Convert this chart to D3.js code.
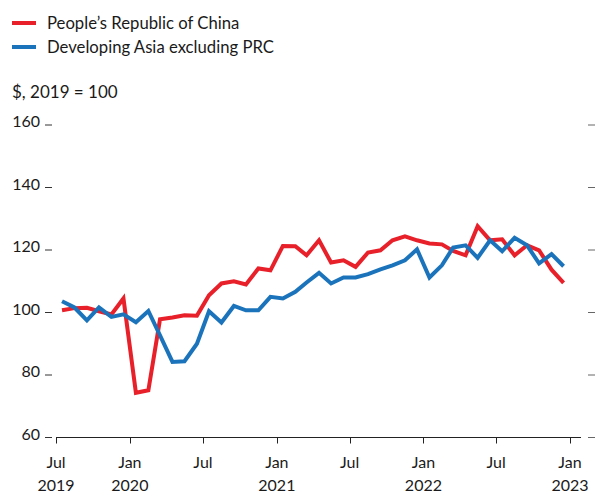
<!DOCTYPE html>
<html>
<head>
<meta charset="utf-8">
<script src="https://cdn.jsdelivr.net/npm/d3@7"></script>
<style>
  body { margin: 0; background: #fff; }
  text { font-family: Lato, "Open Sans", sans-serif; fill: #1a1a1a; }
</style>
</head>
<body>
<svg id="svg" width="598" height="496"></svg>
<script>
// monthly index, $, 2019 = 100 (Jul 2019 .. Dec 2022)
const months = d3.timeMonth.range(new Date(2019, 6, 1), new Date(2023, 0, 1));
const china = [100.7, 101.4, 101.5, 100.4, 99.4, 104.5, 74.3, 75.1, 97.8, 98.4,
  99.1, 99.0, 105.5, 109.3, 110.0, 109.0, 114.1, 113.5, 121.3, 121.2,
  118.3, 123.1, 116.0, 116.7, 114.6, 119.2, 119.9, 123.1, 124.4, 123.1,
  122.1, 121.8, 119.7, 118.3, 127.6, 123.1, 123.4, 118.3, 121.5, 119.9,
  113.7, 109.5];
const asia = [103.6, 101.6, 97.5, 101.6, 98.6, 99.4, 96.9, 100.5, 92.7, 84.2,
  84.4, 90.0, 100.4, 96.8, 102.1, 100.7, 100.7, 105.0, 104.5, 106.6,
  109.6, 112.7, 109.3, 111.2, 111.2, 112.3, 113.8, 115.1, 116.7, 120.2,
  111.2, 115.1, 120.8, 121.5, 117.5, 123.1, 119.6, 123.9, 121.5, 115.7,
  118.7, 114.8];
const yTicks = [60, 80, 100, 120, 140, 160];
const xTicks = [
  [new Date(2019, 6, 1), "Jul", "2019"],
  [new Date(2020, 0, 1), "Jan", "2020"],
  [new Date(2020, 6, 1), "Jul", ""],
  [new Date(2021, 0, 1), "Jan", "2021"],
  [new Date(2021, 6, 1), "Jul", ""],
  [new Date(2022, 0, 1), "Jan", "2022"],
  [new Date(2022, 6, 1), "Jul", ""],
  [new Date(2023, 0, 1), "Jan", "2023"]
];
const series = [
  { name: "People\u2019s Republic of China", values: china, color: "#e8202a" },
  { name: "Developing Asia excluding PRC", values: asia, color: "#1b74bb" }
];

const svg = d3.select("#svg");

const x = d3.scaleTime()
  .domain([new Date(2019, 6, 1), new Date(2023, 0, 1)])
  .range([56, 570]);
const y = d3.scaleLinear().domain([60, 160]).range([437.5, 125]);

// legend
series.forEach((s, i) => {
  const ly = 23 + i * 24;
  svg.append("line")
    .attr("x1", 12).attr("x2", 36)
    .attr("y1", ly).attr("y2", ly)
    .attr("stroke", s.color)
    .attr("stroke-width", 4);
  svg.append("text")
    .attr("x", 47).attr("y", ly + 6)
    .attr("font-size", 16.7)
    .text(s.name);
});

svg.append("text")
  .attr("x", 12).attr("y", 98)
  .attr("font-size", 17)
  .text("$, 2019 = 100");

// y axis labels + ticks both sides
yTicks.forEach(v => {
  svg.append("text")
    .attr("x", 40).attr("y", y(v) + 2)
    .attr("text-anchor", "end")
    .attr("font-size", 16)
    .text(v);
  svg.append("line")
    .attr("x1", 45).attr("x2", 52)
    .attr("y1", y(v)).attr("y2", y(v))
    .attr("stroke", "#333").attr("stroke-width", 1);
  svg.append("line")
    .attr("x1", 588).attr("x2", 595)
    .attr("y1", y(v)).attr("y2", y(v))
    .attr("stroke", "#666").attr("stroke-width", 1);
});

// x axis baseline + ticks
svg.append("line")
  .attr("x1", x(xTicks[0][0])).attr("x2", 581)
  .attr("y1", y(60)).attr("y2", y(60))
  .attr("stroke", "#222").attr("stroke-width", 1);

xTicks.forEach(([d, m, yr]) => {
  const tx = Math.round(x(d)) + 0.5;
  svg.append("line")
    .attr("x1", tx).attr("x2", tx)
    .attr("y1", y(60)).attr("y2", y(60) + 6)
    .attr("stroke", "#222").attr("stroke-width", 1);
  svg.append("text")
    .attr("x", x(d)).attr("y", 468)
    .attr("text-anchor", "middle")
    .attr("font-size", 16)
    .text(m);
  if (yr) {
    svg.append("text")
      .attr("x", x(d)).attr("y", 491)
      .attr("text-anchor", "middle")
      .attr("font-size", 16)
      .text(yr);
  }
});

// lines, points at mid-month
const mid = d => d3.timeDay.offset(d, 15);
const line = d3.line()
  .x((v, i) => x(mid(months[i])))
  .y(v => y(v));

series.forEach(s => {
  svg.append("path")
    .attr("d", line(s.values))
    .attr("fill", "none")
    .attr("stroke", s.color)
    .attr("stroke-width", 4)
    .attr("stroke-linejoin", "miter")
    .attr("stroke-linecap", "butt");
});
</script>
</body>
</html>
